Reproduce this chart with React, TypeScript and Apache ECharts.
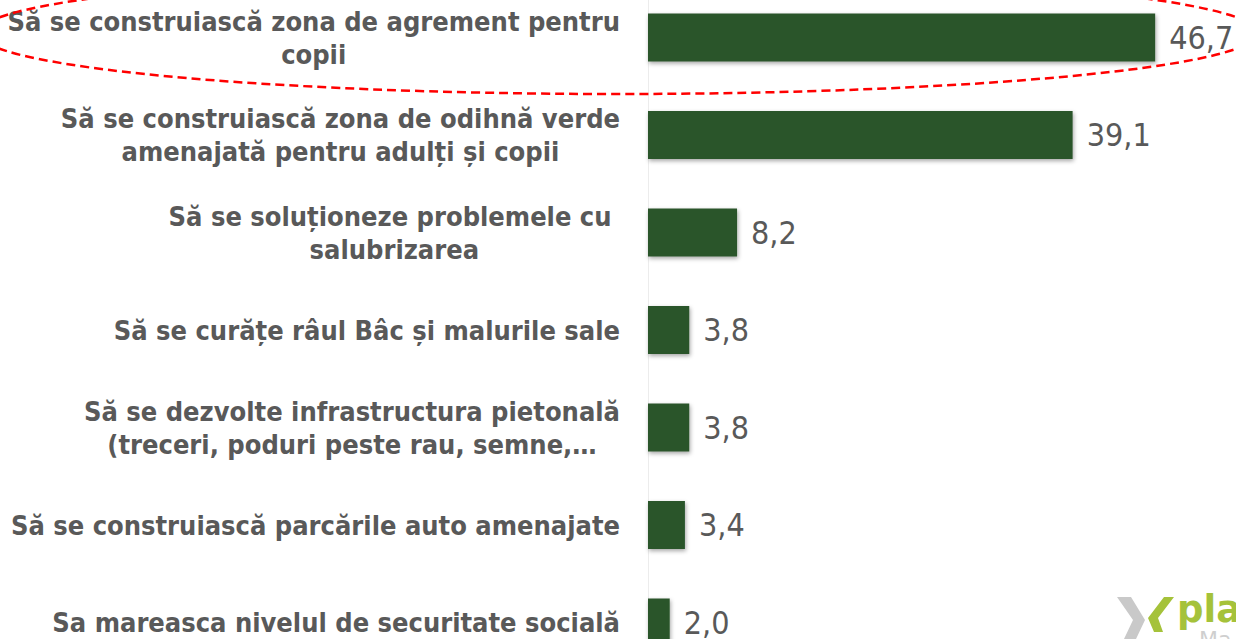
import React, { useEffect, useRef } from "react";
import * as echarts from "echarts";

const categories: string[][] = [
  ["Să se construiască zona de agrement pentru", "copii"],
  ["Să se construiască zona de odihnă verde", "amenajată pentru adulți și copii"],
  ["Să se soluționeze problemele cu ", "salubrizarea"],
  ["Să se curățe râul Bâc și malurile sale"],
  ["Să se dezvolte infrastructura pietonală", "(treceri, poduri peste rau, semne,…"],
  ["Să se construiască parcările auto amenajate"],
  ["Sa mareasca nivelul de securitate socială"],
];
const values: number[] = [46.7, 39.1, 8.2, 3.8, 3.8, 3.4, 2.0];

const TEXT = "#595959";
const BAR = "#2a552b";

export default function App() {
  const ref = useRef<HTMLDivElement>(null);
  useEffect(() => {
    if (!ref.current) return;
    const chart = echarts.init(ref.current, undefined, { renderer: "svg" });
    const labels = categories.map((l) => l.join("\n"));
    chart.setOption({
      animation: false,
      backgroundColor: "#ffffff",
      grid: {
        left: 648,
        width: 543,
        top: -11.25,
        height: 682.5,
        containLabel: false,
        outerBoundsMode: "none",
      },
      xAxis: {
        type: "value",
        min: 0,
        max: 50,
        show: false,
      },
      yAxis: {
        type: "category",
        inverse: true,
        data: labels,
        axisTick: { show: false },
        axisLine: { show: true, lineStyle: { color: "#ececec", width: 1 } },
        axisLabel: {
          margin: 28,
          formatter: (v: string) =>
            v
              .split("\n")
              .map((s) => "{c|" + s + "}")
              .join("\n"),
          rich: {
            c: {
              align: "center",
              fontFamily: "'DejaVu Sans Condensed', 'DejaVu Sans', sans-serif",
              fontWeight: "bold",
              fontSize: 27,
              lineHeight: 33,
              color: TEXT,
            },
          },
        },
      },
      series: [
        {
          type: "bar",
          data: values,
          barWidth: 48,
          itemStyle: {
            color: BAR,
            shadowColor: "rgba(0,0,0,0.35)",
            shadowBlur: 4,
            shadowOffsetX: 1,
            shadowOffsetY: 2,
          },
          label: {
            show: true,
            position: "right",
            distance: 14,
            fontFamily: "'DejaVu Sans Condensed', 'DejaVu Sans', sans-serif",
            fontSize: 32,
            color: TEXT,
            formatter: (p: any) => Number(p.value).toFixed(1).replace(".", ","),
          },
        },
      ],
      graphic: [
        {
          type: "ellipse",
          z: 100,
          shape: { cx: 618, cy: 33, rx: 640, ry: 61 },
          style: {
            fill: "none",
            stroke: "#ff0000",
            lineWidth: 2.5,
            lineDash: [9, 5],
          },
        },
        {
          type: "group",
          z: 100,
          children: [
            {
              type: "polygon",
              shape: {
                points: [
                  [1117, 597],
                  [1131, 597],
                  [1145, 620],
                  [1136, 639],
                  [1124, 639],
                  [1133, 620],
                ],
              },
              style: { fill: "#c9c9c9" },
            },
            {
              type: "polygon",
              shape: {
                points: [
                  [1164, 597],
                  [1174, 597],
                  [1158, 618],
                  [1163, 632],
                  [1154, 632],
                  [1148, 618],
                ],
              },
              style: { fill: "#a5c23a" },
            },
            {
              type: "text",
              x: 1177,
              y: 591,
              style: {
                text: "pla",
                fontFamily: "'DejaVu Sans', sans-serif",
                fontWeight: "bold",
                fontSize: 37,
                lineHeight: 36,
                fill: "#a5c23a",
                verticalAlign: "top",
              },
            },
            {
              type: "text",
              x: 1199,
              y: 628,
              style: {
                text: "Ma",
                fontFamily: "'DejaVu Sans', sans-serif",
                fontSize: 22,
                lineHeight: 22,
                fill: "#cfcfcf",
                verticalAlign: "top",
              },
            },
          ],
        },
      ],
    });
    return () => chart.dispose();
  }, []);
  return (
    <div
      ref={ref}
      style={{ position: "fixed", left: 0, top: 0, width: 1236, height: 639 }}
    />
  );
}
